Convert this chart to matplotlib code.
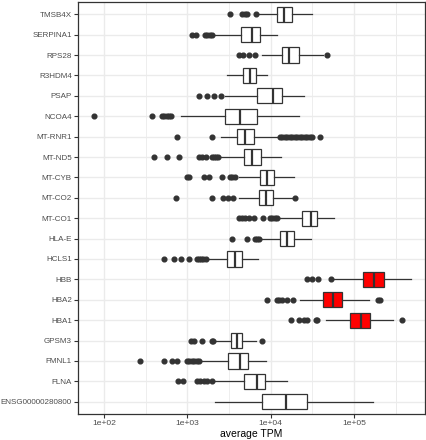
import numpy as np
import matplotlib
matplotlib.use("Agg")
import matplotlib.pyplot as plt

plt.rcParams['font.family'] = ['Liberation Sans', 'DejaVu Sans']

# genes listed top to bottom, values are log10(average TPM)
genes = ["TMSB4X", "SERPINA1", "RPS28", "R3HDM4", "PSAP", "NCOA4", "MT-RNR1",
         "MT-ND5", "MT-CYB", "MT-CO2", "MT-CO1", "HLA-E", "HCLS1", "HBB", "HBA2",
         "HBA1", "GPSM3", "FMNL1", "FLNA", "ENSG00000280800"]
whislo = [3.85, 3.33, 3.90, 3.47, 3.45, 2.92, 3.40, 3.39, 3.62, 3.62,
          4.11, 3.88, 3.24, 4.75, 4.35, 4.66, 3.34, 3.15, 3.32, 3.33]
q1 = [4.07, 3.64, 4.13, 3.67, 3.84, 3.45, 3.60, 3.68, 3.87, 3.86,
      4.38, 4.11, 3.48, 5.11, 4.63, 4.95, 3.52, 3.49, 3.68, 3.89]
med = [4.16, 3.77, 4.22, 3.75, 4.03, 3.63, 3.69, 3.78, 3.95, 3.94,
       4.48, 4.20, 3.57, 5.24, 4.75, 5.08, 3.59, 3.63, 3.83, 4.18]
q3 = [4.25, 3.87, 4.34, 3.82, 4.14, 3.83, 3.80, 3.88, 4.04, 4.03,
      4.56, 4.28, 3.66, 5.36, 4.86, 5.19, 3.66, 3.73, 3.93, 4.43]
whishi = [4.49, 4.08, 4.63, 3.95, 4.40, 4.34, 4.09, 4.12, 4.28, 4.27,
          4.76, 4.48, 3.85, 5.68, 5.18, 5.47, 3.82, 3.94, 4.20, 5.23]
outliers = [
    [3.51, 3.66, 3.69, 3.72, 3.82],
    [3.05, 3.10, 3.21, 3.24, 3.27, 3.30],
    [3.62, 3.67, 3.74, 3.81, 4.68],
    [],
    [3.14, 3.23, 3.32, 3.40],
    [1.88, 2.57, 2.69, 2.72, 2.75, 2.78, 2.80],
    [2.88, 3.30, 4.11, 4.14, 4.17, 4.20, 4.23, 4.26, 4.29, 4.32, 4.35, 4.38,
     4.41, 4.44, 4.47, 4.49, 4.59],
    [2.60, 2.76, 2.90, 3.14, 3.18, 3.22, 3.30, 3.32, 3.34, 3.37],
    [2.99, 3.02, 3.20, 3.26, 3.42, 3.51, 3.54, 3.57],
    [2.86, 3.30, 3.43, 3.49, 3.55, 4.29],
    [3.62, 3.66, 3.69, 3.74, 3.80, 3.91, 3.99, 4.02, 4.05, 4.08],
    [3.54, 3.72, 3.81, 3.84, 3.86],
    [2.72, 2.84, 2.92, 3.02, 3.11, 3.14, 3.16, 3.19, 3.22],
    [4.44, 4.49, 4.57, 4.72],
    [3.96, 4.07, 4.10, 4.14, 4.19, 4.27, 5.29, 5.31],
    [4.24, 4.34, 4.40, 4.43, 4.54, 4.56, 5.57],
    [3.04, 3.08, 3.17, 3.29, 3.31, 3.89],
    [2.43, 2.72, 2.81, 2.88, 2.99, 3.02, 3.05, 3.08, 3.11, 3.14],
    [2.89, 2.95, 3.11, 3.15, 3.20, 3.24, 3.29],
    [],
]
highlight = ["HBB", "HBA2", "HBA1"]

stats = []
for i, g in enumerate(genes):
    stats.append(dict(label=g, whislo=10 ** whislo[i], q1=10 ** q1[i], med=10 ** med[i],
                      q3=10 ** q3[i], whishi=10 ** whishi[i],
                      fliers=10 ** np.array(outliers[i])))

pos = np.arange(len(genes), 0, -1)

fig = plt.figure(figsize=(4.27, 4.40), dpi=100)
ax = fig.add_axes([78 / 427, 1 - 414 / 440, (425 - 78) / 427, 412 / 440])

edge = "#333333"
bp = ax.bxp(stats, positions=pos, widths=0.75, orientation="horizontal",
            patch_artist=True, showfliers=True,
            boxprops=dict(edgecolor=edge, linewidth=0.9),
            medianprops=dict(color=edge, linewidth=1.6),
            whiskerprops=dict(color=edge, linewidth=0.9),
            capprops=dict(linewidth=0),
            flierprops=dict(marker="o", markerfacecolor=edge, markeredgecolor=edge,
                            markersize=3.4, linestyle="none"))
for box, g in zip(bp["boxes"], genes):
    box.set_facecolor("#FF0000" if g in highlight else "white")

ax.set_xscale("log")
ax.set_xlim(10 ** 1.688, 10 ** 5.85)
ax.set_ylim(0.4, len(genes) + 0.6)
ax.set_yticks(pos)
ax.set_yticklabels(genes)
ax.set_xticks([1e2, 1e3, 1e4, 1e5])
ax.set_xticklabels(["1e+02", "1e+03", "1e+04", "1e+05"])
ax.set_xticks([10 ** 1.5 * 10 ** k for k in range(1, 5)] + [10 ** 5.5], minor=True)
ax.tick_params(which="minor", length=0)
ax.tick_params(which="major", length=3, width=0.8, color=edge,
               labelcolor="#4D4D4D", pad=1.5)
ax.tick_params(axis="y", labelsize=5.8)
ax.tick_params(axis="x", labelsize=6.1)

ax.set_axisbelow(True)
ax.grid(which="major", color="#EBEBEB", linewidth=1.0)
ax.grid(which="minor", axis="x", color="#EBEBEB", linewidth=0.6)
for s in ax.spines.values():
    s.set_color(edge)
    s.set_linewidth(0.9)

ax.set_xlabel("average TPM", fontsize=7.5, labelpad=1.5, color="black")

fig.savefig("out.png", dpi=100)
